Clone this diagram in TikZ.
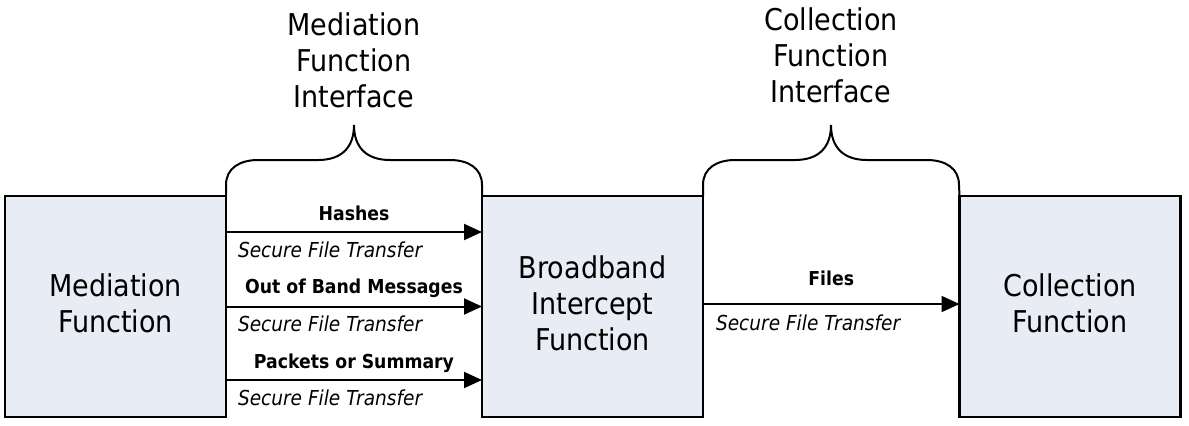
\documentclass[tikz,border=0pt]{standalone}
\usepackage{fontspec}
\setmainfont{DejaVu Sans}[FakeStretch=0.9]
\usetikzlibrary{arrows.meta}
\definecolor{boxfill}{RGB}{232,236,245}
\begin{document}
\begin{tikzpicture}[
  x=0.5pt, y=-0.5pt,
  fbox/.style={draw, line width=1.4pt, fill=boxfill, minimum width=110.5pt, minimum height=110.5pt, align=center, inner sep=0pt, outer sep=0pt, text depth=3pt, font=\fontsize{15}{18}\selectfont},
  iface/.style={align=center, inner sep=0pt, font=\fontsize{15}{18}\selectfont},
  brace/.style={line width=1pt},
  arr/.style={-{Triangle[length=9pt,width=8pt]}, line width=1pt},
  msg/.style={font=\bfseries\fontsize{9.6}{11}\selectfont, inner sep=0pt, anchor=base},
  proto/.style={font=\itshape\fontsize{10.3}{12}\selectfont, inner sep=0pt, anchor=base west}
]
  \useasboundingbox (0,0) rectangle (1189,425);
  % boxes
  \node[fbox] (mf)  at (115.5,306.5) {Mediation\\Function};
  \node[fbox] (bif) at (592.5,306.5) {Broadband\\Intercept\\Function};
  \node[fbox] (cf)  at (1070,306.5)  {Collection\\Function};
  % interface labels
  \node[iface] (mfi) at (354,60) {Mediation\\Function\\Interface};
  \node[iface] (cfi) at (831,55) {Collection\\Function\\Interface};
  % braces
  \draw[brace] (mf.north east) -- ++(0,-11) .. controls +(0,-17) and +(-18,0) .. ++(32,-25) -- ++(60,0)
    .. controls +(24,0) and +(0,22) .. ++(36,-35) .. controls +(0,22) and +(-24,0) .. ++(36,35)
    -- ++(60,0) .. controls +(18,0) and +(0,-17) .. ++(32,25) -- (bif.north west);
  \draw[brace] (bif.north east) -- ++(0,-11) .. controls +(0,-17) and +(-18,0) .. ++(32,-25) -- ++(60,0)
    .. controls +(24,0) and +(0,22) .. ++(36,-35) .. controls +(0,22) and +(-24,0) .. ++(36,35)
    -- ++(60,0) .. controls +(18,0) and +(0,-17) .. ++(32,25) -- (cf.north west);
  % arrows
  \draw[arr] ([yshift=37.25pt]mf.east) -- ([yshift=37.25pt]bif.west)
    node[msg, midway, yshift=6pt] {Hashes}
    node[proto, pos=0, xshift=5.5pt, yshift=-12.5pt] {Secure File Transfer};
  \draw[arr] (mf.east) -- (bif.west)
    node[msg, midway, yshift=6.5pt] {Out of Band Messages}
    node[proto, pos=0, xshift=5.5pt, yshift=-12.5pt] {Secure File Transfer};
  \draw[arr] ([yshift=-36.75pt]mf.east) -- ([yshift=-36.75pt]bif.west)
    node[msg, midway, yshift=6pt] {Packets or Summary}
    node[proto, pos=0, xshift=5.5pt, yshift=-12.5pt] {Secure File Transfer};
  \draw[arr] ([yshift=1.25pt]bif.east) -- ([yshift=1.25pt]cf.west)
    node[msg, midway, yshift=9.5pt] {Files}
    node[proto, pos=0, xshift=6pt, yshift=-13pt] {Secure File Transfer};
\end{tikzpicture}
\end{document}
